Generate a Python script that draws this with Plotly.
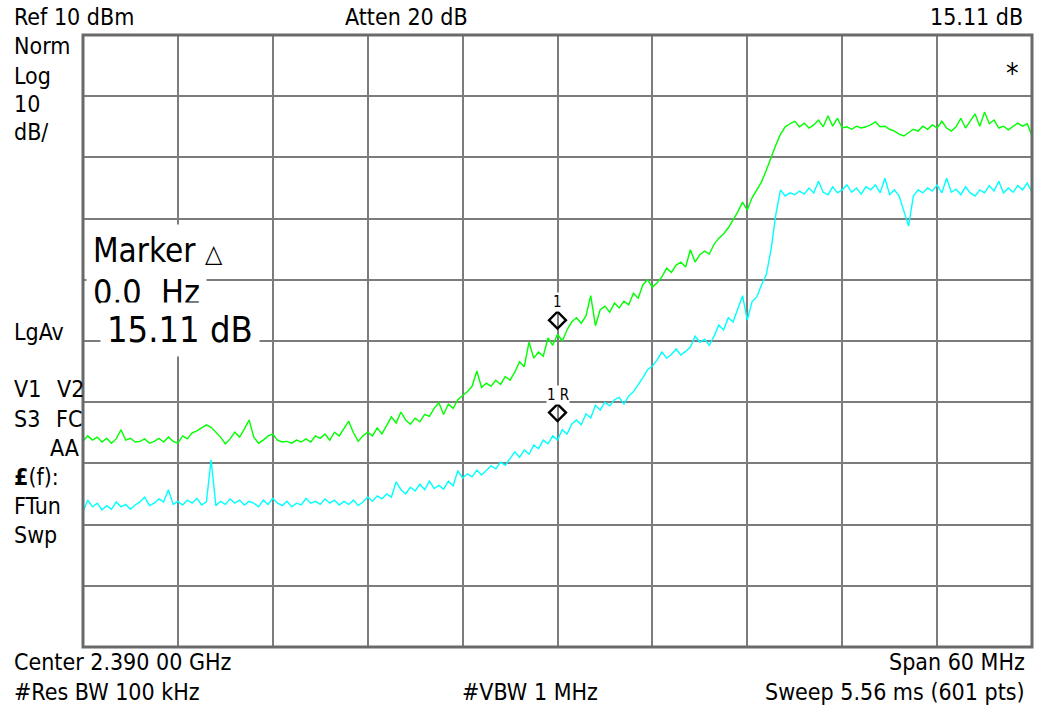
import numpy as np
import plotly.graph_objects as go

# Sweep: center 2390 MHz, span 60 MHz
freq_start_mhz = 2360.0
freq_stop_mhz = 2420.0
n_pts = 201
freqs = np.linspace(freq_start_mhz, freq_stop_mhz, n_pts)

# Trace 1 (green), dBm
green_dbm = [
    -56.4, -55.5, -56.2, -55.7, -56.5, -55.9, -56.7, -56.0, -54.5, -56.2,
    -55.9, -56.5, -56.4, -56.0, -56.7, -56.4, -55.9, -56.5, -55.7, -56.4,
    -56.7, -55.5, -56.0, -55.0, -54.7, -54.2, -53.7, -54.1, -54.9, -55.7,
    -56.8, -56.0, -54.9, -55.7, -54.4, -52.9, -55.7, -56.7, -56.2, -55.5,
    -55.2, -56.2, -56.5, -56.4, -56.7, -56.2, -56.5, -56.0, -56.5, -55.5,
    -55.9, -55.2, -56.2, -54.9, -55.5, -54.2, -53.1, -55.0, -56.4, -55.5,
    -54.9, -55.5, -54.2, -55.2, -53.7, -52.4, -53.4, -51.6, -52.9, -53.6,
    -52.6, -53.2, -52.0, -52.3, -51.0, -50.1, -52.0, -50.3, -51.0, -49.6,
    -48.9, -48.3, -47.4, -44.9, -47.6, -46.9, -47.4, -46.4, -47.1, -45.8,
    -46.4, -45.1, -43.4, -44.2, -40.2, -42.8, -41.8, -42.5, -39.5, -40.7,
    -38.9, -40.0, -38.2, -36.9, -36.2, -37.1, -35.9, -32.6, -37.5, -34.9,
    -34.3, -35.3, -33.8, -34.6, -33.5, -34.1, -32.2, -33.0, -30.8, -30.0,
    -31.2, -30.5, -29.5, -28.1, -28.8, -27.6, -27.1, -27.9, -25.1, -27.1,
    -25.9, -25.3, -25.8, -24.2, -23.2, -22.5, -21.5, -20.2, -18.9, -17.3,
    -18.6, -16.6, -15.3, -14.0, -12.1, -9.9, -8.0, -6.2, -5.0, -4.5,
    -4.1, -5.0, -4.4, -5.2, -4.7, -3.9, -5.0, -3.2, -4.9, -3.6,
    -5.2, -5.0, -5.4, -4.9, -5.2, -5.0, -4.7, -4.2, -5.0, -4.9,
    -5.4, -5.7, -6.2, -6.5, -5.9, -5.4, -5.7, -4.9, -5.4, -4.7,
    -5.2, -4.1, -5.2, -5.7, -5.0, -3.6, -5.2, -4.1, -2.9, -4.9,
    -2.6, -4.5, -3.9, -5.2, -4.9, -5.5, -5.0, -4.4, -4.9, -4.5,
    -6.5,
]

# Trace 2 (cyan, reference), dBm
cyan_dbm = [
    -67.9, -66.0, -67.1, -66.5, -67.6, -66.9, -67.5, -66.3, -67.1, -66.7,
    -67.5, -66.8, -66.3, -65.5, -66.9, -66.5, -65.8, -66.3, -64.3, -66.7,
    -66.2, -66.8, -66.0, -66.5, -65.7, -66.8, -66.3, -59.4, -66.9, -66.2,
    -66.7, -65.8, -66.5, -66.0, -66.8, -66.2, -66.5, -67.1, -66.0, -66.7,
    -65.7, -66.5, -66.9, -66.2, -67.1, -66.5, -66.8, -65.7, -66.5, -66.2,
    -66.7, -65.8, -66.5, -66.0, -66.8, -66.2, -66.7, -66.0, -66.9, -66.3,
    -65.5, -66.2, -65.3, -65.8, -65.0, -65.5, -63.0, -64.3, -65.0, -63.9,
    -64.5, -63.4, -64.3, -62.9, -64.1, -63.6, -64.2, -62.9, -63.7, -61.2,
    -62.4, -61.7, -62.2, -61.1, -61.9, -61.2, -60.4, -60.9, -59.8, -60.3,
    -59.1, -58.1, -59.0, -57.8, -58.5, -57.0, -57.6, -56.2, -56.8, -55.5,
    -56.2, -54.5, -55.2, -53.6, -52.9, -53.7, -51.9, -52.6, -50.5, -51.3,
    -50.0, -50.6, -49.6, -49.2, -50.3, -49.0, -48.3, -47.2, -46.0, -44.7,
    -44.1, -43.1, -41.8, -42.8, -42.2, -41.3, -42.3, -41.7, -41.0, -39.2,
    -40.2, -39.7, -40.7, -39.2, -37.4, -38.2, -36.2, -36.9, -34.8, -32.6,
    -36.6, -33.6, -32.8, -30.8, -29.2, -25.1, -19.4, -15.3, -16.3, -15.8,
    -16.1, -15.5, -16.0, -15.0, -15.8, -13.9, -15.7, -16.1, -14.8, -15.8,
    -15.3, -14.5, -15.7, -15.0, -16.0, -14.8, -15.3, -14.5, -15.8, -13.4,
    -16.1, -15.3, -16.3, -18.9, -21.2, -16.3, -15.3, -15.8, -15.0, -15.5,
    -14.5, -15.8, -13.4, -15.7, -15.2, -16.1, -14.8, -15.8, -16.3, -15.3,
    -15.8, -14.6, -15.5, -13.9, -15.8, -15.0, -15.7, -14.6, -15.3, -14.2,
    -15.7,
]

# Markers (delta marker 1 and its reference 1R)
marker_freq = [2390.0, 2390.0]
marker_dbm = [-36.6, -51.7]
marker_labels = ["1", "1\u00a0R"]

ref_level = 10
db_per_div = 10
n_div = 10

FONT = "Liberation Sans Narrow, DejaVu Sans Condensed, Arial Narrow, sans-serif"
GRID = "#7c7c7c"

fig = go.Figure()
fig.add_trace(go.Scatter(x=freqs, y=green_dbm, mode="lines",
                         line=dict(color="#00ff00", width=1.4), hoverinfo="skip"))
fig.add_trace(go.Scatter(x=freqs, y=cyan_dbm, mode="lines",
                         line=dict(color="#00ffff", width=1.4), hoverinfo="skip"))
fig.add_trace(go.Scatter(x=marker_freq, y=marker_dbm, mode="markers",
                         marker=dict(symbol="diamond-open", size=13, color="black",
                                     line=dict(width=2.4, color="black")),
                         hoverinfo="skip"))

# plot area in pixels: x 83..1032, y 35..647
L, R, T, B = 83, 1032, 35, 647


def px(x):
    return (x - L) / (R - L)


def py(y):
    return (B - y) / (B - T)


ann = []


def txt(s, x, y, anchor="left", size=23, bg=None, pad=3):
    d = dict(text=s, x=px(x), y=py(y), xref="paper", yref="paper",
             xanchor=anchor, yanchor="middle", showarrow=False,
             font=dict(family=FONT, size=size, color="black"))
    if bg:
        d["bgcolor"] = bg
        d["borderpad"] = pad
    ann.append(d)


# top row
txt("Ref\u00a010\u00a0dBm", 12, 17)
txt("Atten\u00a020\u00a0dB", 343, 17)
txt("15.11\u00a0dB", 1025, 17, anchor="right")
# left column
txt("Norm", 12, 46)
txt("Log", 12, 76)
txt("10", 12, 104)
txt("dB/", 12, 132)
txt("LgAv", 12, 332)
txt("V1", 12, 389)
txt("V2", 55, 389)
txt("S3", 12, 419)
txt("FC", 54, 419)
txt("AA", 81, 448, anchor="right")
txt("<b>£</b>(f):", 12, 477)
txt("FTun", 12, 506)
txt("Swp", 12, 535)
# bottom rows
txt("Center\u00a02.390\u00a000\u00a0GHz", 12, 662)
txt("Span\u00a060\u00a0MHz", 1027, 662, anchor="right")
txt("#Res\u00a0BW\u00a0100\u00a0kHz", 12, 692)
txt("#VBW\u00a01\u00a0MHz", 460, 692)
txt("Sweep\u00a05.56\u00a0ms\u00a0(601\u00a0pts)", 1027, 692, anchor="right")
# star
txt("*", 1012, 73, anchor="center", size=28)
# marker readout box
txt("Marker\u00a0<b><span style='font-size:25px'>\u25b3</span></b>", 86, 251,
    size=33, bg="white", pad=6)
txt("0.0\u00a0\u00a0Hz", 86, 292, size=34, bg="white", pad=6)
txt("15.11\u00a0dB", 100, 330, size=36, bg="white", pad=6)

# marker number labels
for f, v, lab in zip(marker_freq, marker_dbm, marker_labels):
    ann.append(dict(text=lab, x=f, y=v, xref="x", yref="y", showarrow=False,
                    xanchor="center", yanchor="bottom", yshift=8,
                    bgcolor="white", borderpad=0,
                    font=dict(family=FONT, size=15, color="black")))

fig.update_layout(
    width=1043, height=710, autosize=False,
    margin=dict(l=L, r=1043 - R, t=T, b=710 - B, pad=0),
    paper_bgcolor="white", plot_bgcolor="white",
    showlegend=False,
    annotations=ann,
    xaxis=dict(range=[freq_start_mhz, freq_stop_mhz], tick0=freq_start_mhz,
               dtick=(freq_stop_mhz - freq_start_mhz) / n_div,
               showgrid=True, gridcolor=GRID, gridwidth=2,
               zeroline=False, showticklabels=False, ticks="", fixedrange=True),
    yaxis=dict(range=[ref_level - n_div * db_per_div, ref_level],
               tick0=ref_level - n_div * db_per_div, dtick=db_per_div,
               showgrid=True, gridcolor=GRID, gridwidth=2,
               zeroline=False, showticklabels=False, ticks="", fixedrange=True),
    shapes=[dict(type="rect", xref="paper", yref="paper", x0=0, x1=1, y0=0, y1=1,
                 line=dict(color="#6a6a6a", width=3), layer="above")],
)

fig.write_html("out.html", config={"displayModeBar": False},
               post_script="document.body.style.margin='0';document.body.style.overflow='hidden';")
